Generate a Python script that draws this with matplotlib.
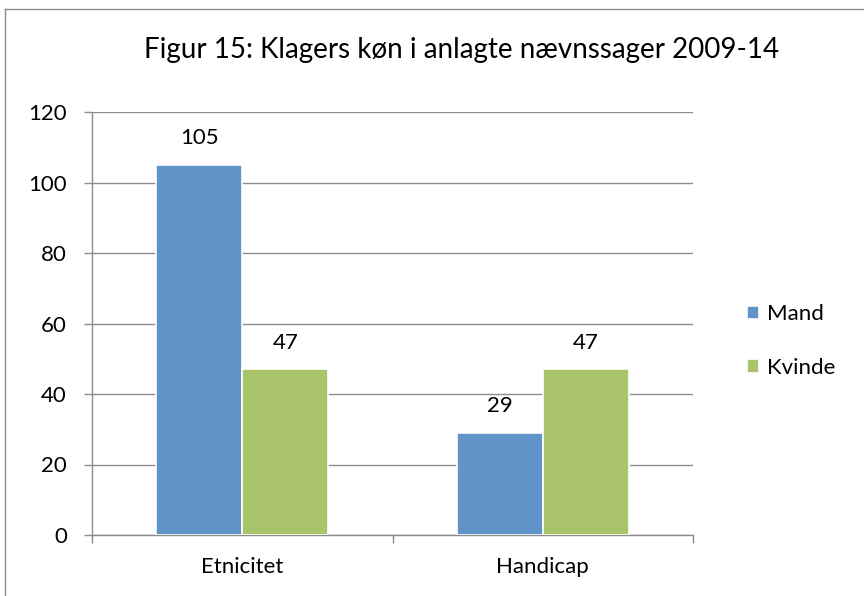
import matplotlib
matplotlib.use("Agg")
import matplotlib.pyplot as plt
import numpy as np
from matplotlib.lines import Line2D

categories = ["Etnicitet", "Handicap"]
series_names = ["Mand", "Kvinde"]
mand = [105, 29]
kvinde = [47, 47]
yticks = [0, 20, 40, 60, 80, 100, 120]
title = "Figur 15: Klagers køn i anlagte nævnssager 2009-14"

colors = ["#6094C8", "#AAC46C"]
grid_c = "#8C8C8C"
fs = 16

plt.rcParams['font.family'] = ['Lato', 'DejaVu Sans']

fig = plt.figure(figsize=(8.64, 5.96), dpi=100)
ax = fig.add_axes([92/864, 61/596, 601/864, 423/596])

x = np.arange(len(categories))
w = 0.286
for i, (vals, name) in enumerate(zip([mand, kvinde], series_names)):
    pos = x + (i - 0.5) * w
    bars = ax.bar(pos, vals, width=w, color=colors[i], edgecolor="white",
                  linewidth=1.2, label=name, zorder=3)
    for b, v in zip(bars, vals):
        ax.annotate(str(v), (b.get_x() + b.get_width()/2, v), xytext=(0, 19),
                    textcoords="offset points", ha="center", va="center",
                    fontsize=fs, color="black")

ax.set_xlim(-0.5, 1.5)
ax.set_ylim(0, 120)
ax.set_yticks(yticks)
ax.set_yticklabels([str(t) for t in yticks], fontsize=fs)
ax.yaxis.grid(True, color=grid_c, linewidth=1.0, zorder=0)
ax.tick_params(axis="y", length=6, color=grid_c, width=1.0, pad=12)
ax.set_xticks([-0.5, 0.5, 1.5])
ax.set_xticklabels([])
ax.set_xticks(x, minor=True)
ax.set_xticklabels(categories, minor=True, fontsize=fs)
ax.tick_params(axis="x", which="major", length=6, color=grid_c, width=1.0)
ax.tick_params(axis="x", which="minor", length=0, pad=16)
for s in ["top", "right"]:
    ax.spines[s].set_visible(False)
for s in ["left", "bottom"]:
    ax.spines[s].set_color(grid_c)
    ax.spines[s].set_linewidth(1.0)

ax.legend(loc="center left", bbox_to_anchor=(736/864, 1 - 341/596),
          bbox_transform=fig.transFigure, frameon=False, borderpad=0,
          fontsize=fs, handlelength=0.55, handleheight=0.55, handletextpad=0.35,
          labelspacing=1.5)

fig.text(462/864, 1 - 50/596, title, ha="center", va="center", fontsize=20)

fig.add_artist(Line2D([5/864, 5/864], [0, 1 - 9/596], transform=fig.transFigure,
                      color="#8C8C8C", linewidth=1.0))
fig.add_artist(Line2D([5/864, 1], [1 - 9/596, 1 - 9/596], transform=fig.transFigure,
                      color="#8C8C8C", linewidth=1.0))

fig.savefig("out.png", dpi=100)
